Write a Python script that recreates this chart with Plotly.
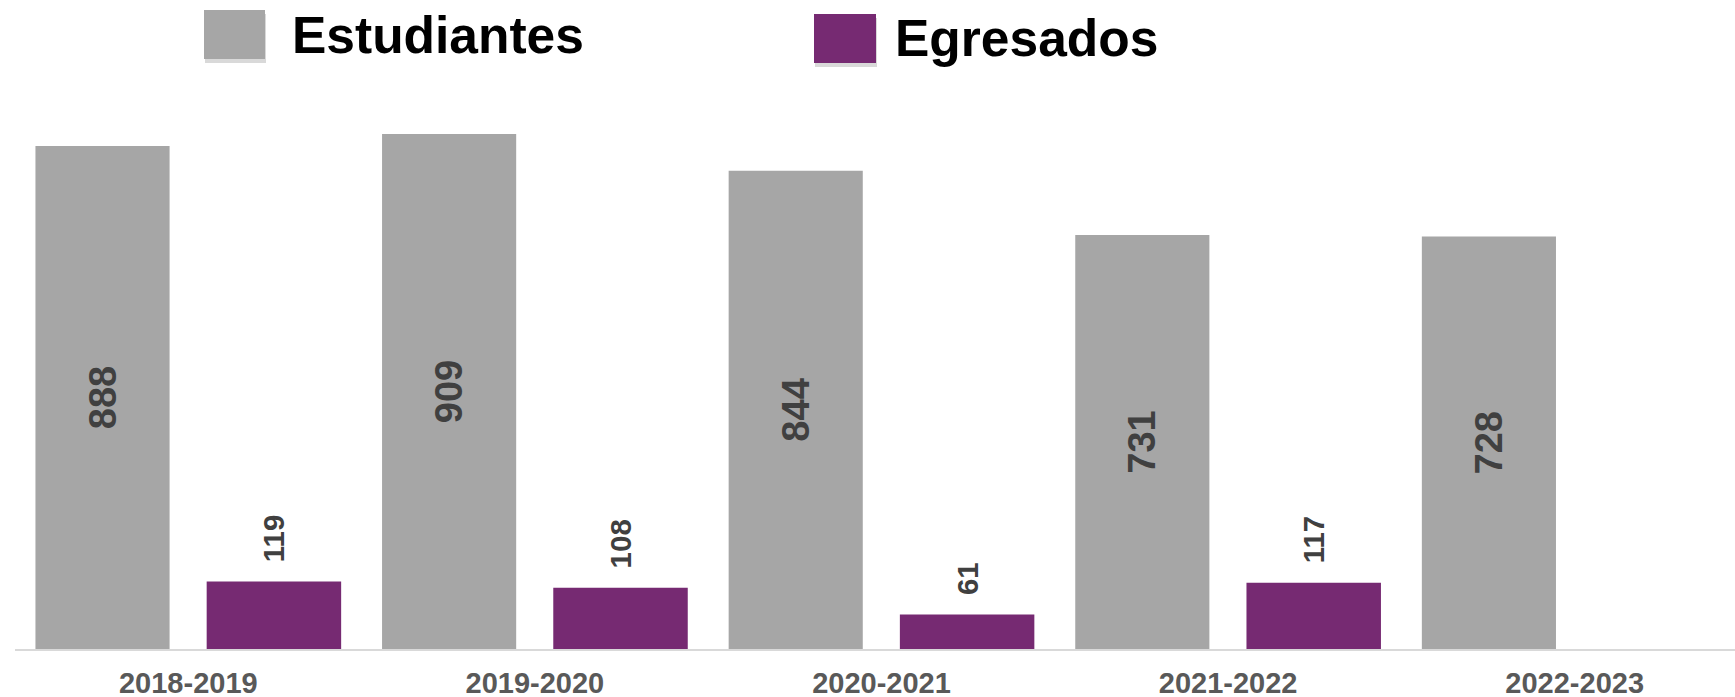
import plotly.graph_objects as go

categories = ["2018-2019", "2019-2020", "2020-2021", "2021-2022", "2022-2023"]
series_names = ["Estudiantes", "Egresados"]
estudiantes = [888, 909, 844, 731, 728]
egresados = [119, 108, 61, 117, None]

W, H = 1735, 697
ML, MR, MT, MB = 15, 0, 100, 48
PW, PH = W - ML - MR, H - MT - MB

GRAY = "#A6A6A6"
PURPLE = "#762A72"
LABEL = "#404040"
FONT = "Arial, Liberation Sans, sans-serif"


def px_x(x):
    return (x - ML) / PW


def px_y(y):
    return (H - MB - y) / PH


fig = go.Figure()
fig.add_trace(go.Bar(
    x=categories, y=estudiantes, name=series_names[0],
    marker=dict(color=GRAY, line=dict(width=0)),
    offset=-0.441, width=0.387,
    text=estudiantes, textposition="inside", insidetextanchor="middle",
    textangle=-90,
    textfont=dict(family=FONT, size=38, color=LABEL, weight="bold"),
    cliponaxis=False, showlegend=False,
))
fig.add_trace(go.Bar(
    x=categories, y=egresados, name=series_names[1],
    marker=dict(color=PURPLE, line=dict(width=0)),
    offset=0.053, width=0.388,
    texttemplate="\u00a0\u00a0%{y}", textposition="outside",
    textangle=-90,
    textfont=dict(family=FONT, size=29.5, color=LABEL, weight="bold"),
    cliponaxis=False, showlegend=False,
))

shapes = []
annotations = []
legend_items = [
    (series_names[0], GRAY, (204, 265, 10, 59), (290, 35)),
    (series_names[1], PURPLE, (814, 876, 14, 63), (893, 38)),
]
for name, color, (x0, x1, y0, y1), (tx, ty) in legend_items:
    shapes.append(dict(type="rect", xref="paper", yref="paper",
                       x0=px_x(x0 + 1), x1=px_x(x1 + 1), y0=px_y(y1 + 4), y1=px_y(y0 + 4),
                       fillcolor="rgba(0,0,0,0.15)", line=dict(width=0), layer="above"))
    shapes.append(dict(type="rect", xref="paper", yref="paper",
                       x0=px_x(x0), x1=px_x(x1), y0=px_y(y1), y1=px_y(y0),
                       fillcolor=color, line=dict(width=0), layer="above"))
    annotations.append(dict(text=name, xref="paper", yref="paper",
                            x=px_x(tx), y=px_y(ty), xanchor="left", yanchor="middle",
                            showarrow=False,
                            font=dict(family=FONT, size=51.5, color="#000000", weight="bold")))

fig.update_layout(
    width=W, height=H,
    margin=dict(l=ML, r=MR, t=MT, b=MB, pad=0, autoexpand=False),
    paper_bgcolor="white", plot_bgcolor="white",
    barmode="group",
    showlegend=False,
    shapes=shapes, annotations=annotations,
    xaxis=dict(
        range=[-0.5, -0.5 + PW / 346.6],
        automargin=False,
        showgrid=False, zeroline=False,
        showline=True, linecolor="#D9D9D9", linewidth=2,
        ticks="", ticklabelstandoff=7,
        tickfont=dict(family=FONT, size=29, color="#595959", weight="bold"),
    ),
    yaxis=dict(
        range=[0, PH / 0.5665],
        automargin=False,
        visible=False, showgrid=False, zeroline=False,
    ),
)

fig.write_html(
    "out.html",
    config={"displayModeBar": False},
    post_script="document.body.style.margin='0';document.body.style.overflow='hidden';",
)
